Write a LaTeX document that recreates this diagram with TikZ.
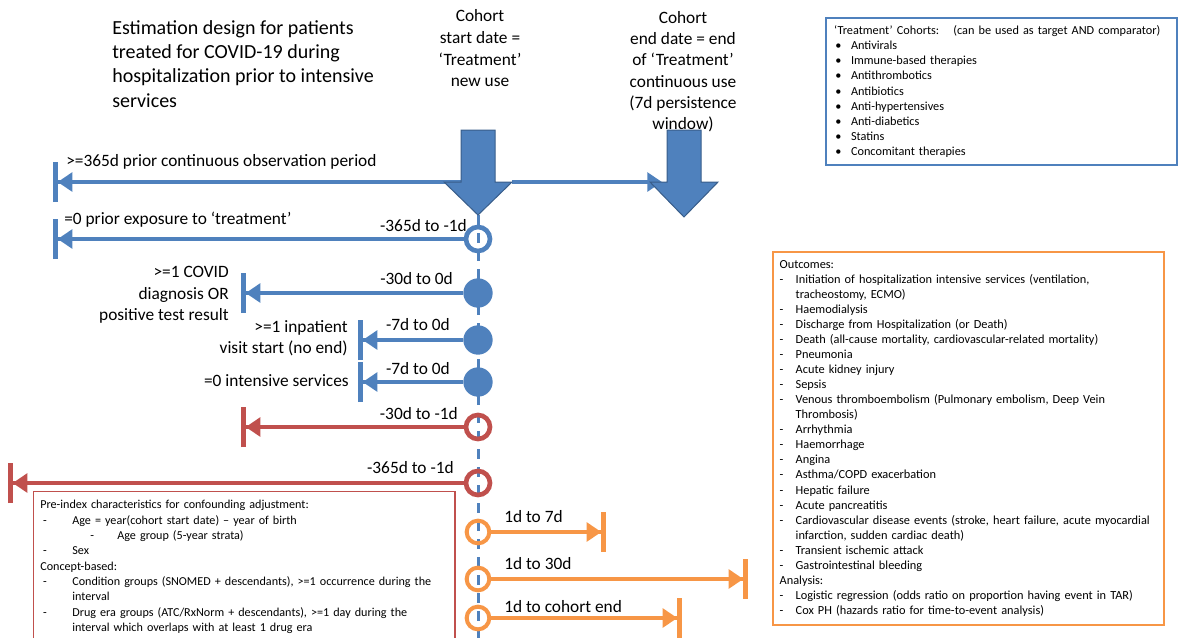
\documentclass[tikz,border=0pt]{standalone}
\usepackage{fontspec}
\setmainfont{Carlito}
\usepackage{tikz}
\usetikzlibrary{arrows.meta}

\definecolor{obsblue}{HTML}{4F81BD}
\definecolor{obsdark}{HTML}{385D8A}
\definecolor{covred}{HTML}{C0504D}
\definecolor{outorange}{HTML}{F79646}

\newcommand{\itemlead}[2][12pt]{\makebox[#1][l]{#2}}

\tikzset{
  winline/.style={line width=3.5pt, -{Triangle[length=11pt,width=14pt] Bar[width=30pt]}},
  bluearrow/.style={winline, draw=obsblue, obsblue},
  redarrow/.style={winline, draw=covred, covred},
  orangearrow/.style={winline, draw=outorange, outorange},
  timeline/.style={draw=obsblue, line width=2.25pt, dash pattern=on 7.5pt off 6pt},
  opencirc/.style={circle, draw=#1, line width=3.5pt, minimum size=18pt, inner sep=0pt},
  fullcirc/.style={circle, fill=obsblue, minimum size=22pt, inner sep=0pt},
  blockarrow/.style={fill=obsblue, draw=obsdark, line width=0.75pt},
  lbl/.style={font=\fontsize{13}{16}\selectfont, inner sep=0pt},
  listbox/.style={draw=#1, line width=1.5pt, align=left, inner xsep=5pt, inner ysep=6pt,
    font=\fontsize{9.25}{11.3}\selectfont},
}

\begin{document}
\begin{tikzpicture}[x=0.75pt,y=-0.75pt]
\useasboundingbox (0,0) rectangle (1180,637);

% headings
\node[lbl, font=\fontsize{15}{18.3}\selectfont, align=left, anchor=north west] (title) at (112,20)
  {Estimation design for patients\\treated for COVID-19 during\\hospitalization prior to intensive\\services};
\node[lbl, font=\fontsize{13}{16.4}\selectfont, align=center, anchor=north] (startlab) at (480,9)
  {Cohort\\start date =\\‘Treatment’\\new use};
\node[lbl, align=center, anchor=north] (endlab) at (683,11)
  {Cohort\\end date = end\\of ‘Treatment’\\continuous use\\(7d persistence\\window)};

% timeline
\coordinate (newuse) at (478,215);
\coordinate (tlend) at (478,645);
\draw[timeline] (newuse) -- (tlend);

% time points
\node[opencirc=obsblue] (expo) at (478,239) {};
\node[fullcirc] (covid) at (478,293) {};
\node[fullcirc] (visit) at (478,340) {};
\node[fullcirc] (icu) at (478,382) {};
\node[opencirc=covred] (prior30) at (478,427) {};
\node[opencirc=covred] (prior365) at (478,483) {};

% window ends
\coordinate (obsstart) at (461,182);
\coordinate (obsend) at (53,182);
\coordinate (fwdstart) at (512,182);
\coordinate (fwdend) at (662,182);
\coordinate (expoend) at (53,239);
\coordinate (covidend) at (241,293);
\coordinate (visitend) at (358,340);
\coordinate (icuend) at (358,382);
\coordinate (prior30end) at (241,427);
\coordinate (prior365end) at (8,483);

\draw[bluearrow] (obsstart) -- (obsend);
\draw[line width=3.5pt, draw=obsblue, obsblue, -{Triangle[length=11pt,width=14pt]}] (fwdstart) -- (fwdend);
\draw[bluearrow] (expo) -- (expoend);
\draw[bluearrow] (covid) -- (covidend);
\draw[bluearrow] (visit) -- (visitend);
\draw[bluearrow] (icu) -- (icuend);
\draw[redarrow] (prior30) -- (prior30end);
\draw[redarrow] (prior365) -- (prior365end);

% outcome windows
\foreach \nm/\y/\xend/\ly/\lab in {tarseven/532/606/517/1d to 7d, tarthirty/579/748/564/1d to 30d,
    tarend/618/682/607/1d to cohort end}{
  \node[opencirc=outorange, minimum size=17pt, line width=3pt] (\nm) at (478,\y) {};
  \coordinate (\nm stop) at (\xend,\y);
  \draw[orangearrow] (\nm) -- (\nm stop);
  \node[lbl, anchor=west] (\nm lab) at (504,\ly) {\lab};
}

% block arrows
\foreach \cx/\tip in {478/215,684/217}
  \filldraw[blockarrow, shift={(\cx,0)}] (-17,130) -- (17,130) -- (17,182) -- (34,182)
    -- (0,\tip) -- (-34,182) -- (-17,182) -- cycle;

% window labels
\node[lbl, anchor=west] (obslab) at (66,162) {>=365d prior continuous observation period};
\node[lbl, anchor=west] (expolab) at (64,220) {=0 prior exposure to ‘treatment’};
\node[lbl, anchor=east] (expoday) at (467,226) {-365d to -1d};
\node[lbl, anchor=east] (covidday) at (453,279) {-30d to 0d};
\node[lbl, align=right, anchor=east] (covidlab) at (229,295)
  {>=1 COVID\\diagnosis OR\\positive test result};
\node[lbl, anchor=east] (visitday) at (450,325) {-7d to 0d};
\node[lbl, align=right, anchor=east] (visitlab) at (348,338.5) {>=1 inpatient\\visit start (no end)};
\node[lbl, anchor=east] (icuday) at (450,369) {-7d to 0d};
\node[lbl, anchor=east] (iculab) at (349,381) {=0 intensive services};
\node[lbl, anchor=east] (prior30day) at (458,414) {-30d to -1d};
\node[lbl, anchor=east] (prior365day) at (454,468) {-365d to -1d};

% boxes
\node[listbox=obsblue, font=\fontsize{9.2}{11.4}\selectfont, inner xsep=6pt, inner ysep=5.5pt,
    text width=251pt, anchor=north west] (cohorts) at (825,17)
  {‘Treatment’ Cohorts:\hspace{6pt} (can be used as target AND comparator)\\
   \itemlead[12.75pt]{\hspace*{1pt}\textbullet}Antivirals\\
   \itemlead[12.75pt]{\hspace*{1pt}\textbullet}Immune-based therapies\\
   \itemlead[12.75pt]{\hspace*{1pt}\textbullet}Antithrombotics\\
   \itemlead[12.75pt]{\hspace*{1pt}\textbullet}Antibiotics\\
   \itemlead[12.75pt]{\hspace*{1pt}\textbullet}Anti-hypertensives\\
   \itemlead[12.75pt]{\hspace*{1pt}\textbullet}Anti-diabetics\\
   \itemlead[12.75pt]{\hspace*{1pt}\textbullet}Statins\\
   \itemlead[12.75pt]{\hspace*{1pt}\textbullet}Concomitant therapies};

\node[listbox=outorange, text width=283pt, anchor=north west] (outcomes) at (772,251)
  {Outcomes:\\
   \itemlead{-}Initiation of hospitalization intensive services (ventilation,\\
   \hspace*{12pt}tracheostomy, ECMO)\\
   \itemlead{-}Haemodialysis\\
   \itemlead{-}Discharge from Hospitalization (or Death)\\
   \itemlead{-}Death (all-cause mortality, cardiovascular-related mortality)\\
   \itemlead{-}Pneumonia\\
   \itemlead{-}Acute kidney injury\\
   \itemlead{-}Sepsis\\
   \itemlead{-}Venous thromboembolism (Pulmonary embolism, Deep Vein\\
   \hspace*{12pt}Thrombosis)\\
   \itemlead{-}Arrhythmia\\
   \itemlead{-}Haemorrhage\\
   \itemlead{-}Angina\\
   \itemlead{-}Asthma/COPD exacerbation\\
   \itemlead{-}Hepatic failure\\
   \itemlead{-}Acute pancreatitis\\
   \itemlead{-}Cardiovascular disease events (stroke, heart failure, acute myocardial\\
   \hspace*{12pt}infarction, sudden cardiac death)\\
   \itemlead{-}Transient ischemic attack\\
   \itemlead{-}Gastrointestinal bleeding\\
   Analysis:\\
   \itemlead{-}Logistic regression (odds ratio on proportion having event in TAR)\\
   \itemlead{-}Cox PH (hazards ratio for time-to-event analysis)};

\node[listbox=covred, line width=1pt, font=\fontsize{9.1}{11.5}\selectfont, inner ysep=6.5pt,
    text width=306pt, anchor=north west] (preindex) at (33,491)
  {Pre-index characteristics for confounding adjustment:\\
   \itemlead[24pt]{\hspace*{2pt}-}Age = year(cohort start date) – year of birth\\
   \hspace*{37.5pt}\itemlead[20.25pt]{-}Age group (5-year strata)\\
   \itemlead[24pt]{\hspace*{2pt}-}Sex\\
   Concept-based:\\
   \itemlead[24pt]{\hspace*{2pt}-}Condition groups (SNOMED + descendants), >=1 occurrence during the\\
   \hspace*{24pt}interval\\
   \itemlead[24pt]{\hspace*{2pt}-}Drug era groups (ATC/RxNorm + descendants), >=1 day during the\\
   \hspace*{24pt}interval which overlaps with at least 1 drug era\\
   \mbox{}\\
   \mbox{}};
\end{tikzpicture}
\end{document}
